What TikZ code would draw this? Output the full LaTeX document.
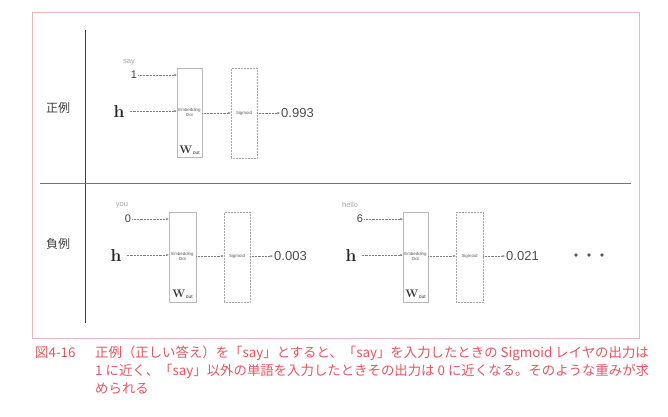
\documentclass[tikz,border=0pt]{standalone}
\usepackage[no-math]{fontspec}
\setmainfont{Liberation Sans}
\newfontfamily\jp{Noto Sans CJK JP}
\usetikzlibrary{arrows.meta}
\definecolor{capred}{RGB}{226,86,96}
\definecolor{framepink}{RGB}{234,182,186}
\newcommand\myWout{$\mathbf{W}$\kern0.3pt\raisebox{-1pt}{\fontsize{5}{5}\selectfont out}}
\begin{document}
\begin{tikzpicture}[x=1pt,y=-1pt,
  lbl/.style={font=\jp\fontsize{12}{12}\selectfont, text=black!75, inner sep=0},
  hvec/.style={font=\fontsize{16}{16}\selectfont, text=black!85, inner sep=0},
  idx/.style={font=\fontsize{11}{11}\selectfont, text=black!75, inner sep=1pt},
  word/.style={font=\fontsize{7.5}{7.5}\selectfont, text=black!35, inner sep=0},
  outv/.style={font=\fontsize{13}{13}\selectfont, text=black!70, anchor=west, inner sep=1pt},
  embbox/.style={draw=black!28, line width=0.5pt, minimum width=25pt, minimum height=89pt, inner sep=0},
  sigbox/.style={draw=black!35, densely dotted, line width=0.5pt, minimum width=26pt, minimum height=90pt, inner sep=0},
  tinytxt/.style={font=\fontsize{4.4}{5}\selectfont, text=black!65, align=center, inner sep=0},
  wout/.style={font=\fontsize{11}{11}\selectfont, text=black!80, inner sep=0},
  arr/.style={-{Stealth[length=3pt,width=2.2pt]}, draw=black!50, line width=0.45pt, densely dotted},
  capt/.style={font=\jp\fontsize{13.4}{13.4}\selectfont, text=capred, anchor=west, inner sep=0},
  dotb/.style={circle, fill=black!65, inner sep=0, minimum size=3.6pt}
]
\useasboundingbox (0,0) rectangle (668,416);

% frame and rules
\draw[framepink, line width=0.9pt] (32,12) rectangle (639,338);
\coordinate (vt) at (85,30);
\coordinate (vb) at (85,323);
\draw[black!75, line width=0.7pt] (vt) -- (vb);
\coordinate (sl) at (40,183);
\coordinate (sr) at (631,183);
\draw[black!55, line width=1pt] (sl) -- (sr);

\node[lbl] (pos) at (58,108) {正例};
\node[lbl] (neg) at (58,244) {負例};

% ---- positive example
\node[word] (w1) at (129,62) {say};
\node[idx] (i1) at (134,75) {1};
\node[hvec] (h1) at (119,111) {$\mathbf{h}$};
\node[embbox] (e1) at (189.5,113) {};
\node[tinytxt] (et1) at (189.5,112) {Embedding\\Dot};
\node[wout] (wo1) at (189.5,150) {\myWout};
\node[sigbox] (s1) at (244,113) {};
\node[tinytxt] (st1) at (244,113) {Sigmoid};
\node[outv] (o1) at (280,113) {0.993};
\draw[arr] (i1.east) -- (i1.east -| e1.west);
\draw[arr] (h1.east) ++(5,0) coordinate (h1s) -- (h1s -| e1.west);
\draw[arr] (e1.east |- st1) -- (s1.west |- st1);
\draw[arr] (s1.east |- st1) -- (o1.west);

% ---- negative example 1
\node[word] (w2) at (122,205) {you};
\node[idx] (i2) at (128,219) {0};
\node[hvec] (h2) at (116,255) {$\mathbf{h}$};
\node[embbox, minimum width=27pt, minimum height=90pt] (e2) at (182.5,257) {};
\node[tinytxt] (et2) at (182.5,256) {Embedding\\Dot};
\node[wout] (wo2) at (182.5,294) {\myWout};
\node[sigbox] (s2) at (237,257) {};
\node[tinytxt] (st2) at (237,256) {Sigmoid};
\node[outv] (o2) at (273,256) {0.003};
\draw[arr] (i2.east) -- (i2.east -| e2.west);
\draw[arr] (h2.east) ++(5,0) coordinate (h2s) -- (h2s -| e2.west);
\draw[arr] (e2.east |- st2) -- (s2.west |- st2);
\draw[arr] (s2.east |- st2) -- (o2.west);

% ---- negative example 2
\node[word] (w3) at (350,205) {hello};
\node[idx] (i3) at (360,219) {6};
\node[hvec] (h3) at (351,255) {$\mathbf{h}$};
\node[embbox, minimum height=90pt] (e3) at (415.5,257) {};
\node[tinytxt] (et3) at (415.5,256) {Embedding\\Dot};
\node[wout] (wo3) at (415.5,294) {\myWout};
\node[sigbox, minimum width=27pt] (s3) at (469.5,257) {};
\node[tinytxt] (st3) at (469.5,256) {Sigmoid};
\node[outv] (o3) at (505,256) {0.021};
\draw[arr] (i3.east) -- (i3.east -| e3.west);
\draw[arr] (h3.east) ++(5,0) coordinate (h3s) -- (h3s -| e3.west);
\draw[arr] (e3.east |- st3) -- (s3.west |- st3);
\draw[arr] (s3.east |- st3) -- (o3.west);

\node[dotb] (d1) at (576,255) {};
\node[dotb] (d2) at (589,255) {};
\node[dotb] (d3) at (602,255) {};

% caption
\node[capt] (c0) at (35,353) {図4-16};
\node[capt] (c1) at (95,353) {正例（正しい答え）を「say」とすると、「say」を入力したときの Sigmoid レイヤの出力は};
\node[capt] (c2) at (95,371) {1 に近く、「say」以外の単語を入力したときその出力は 0 に近くなる。そのような重みが求};
\node[capt] (c3) at (95,389) {められる};
\end{tikzpicture}
\end{document}
